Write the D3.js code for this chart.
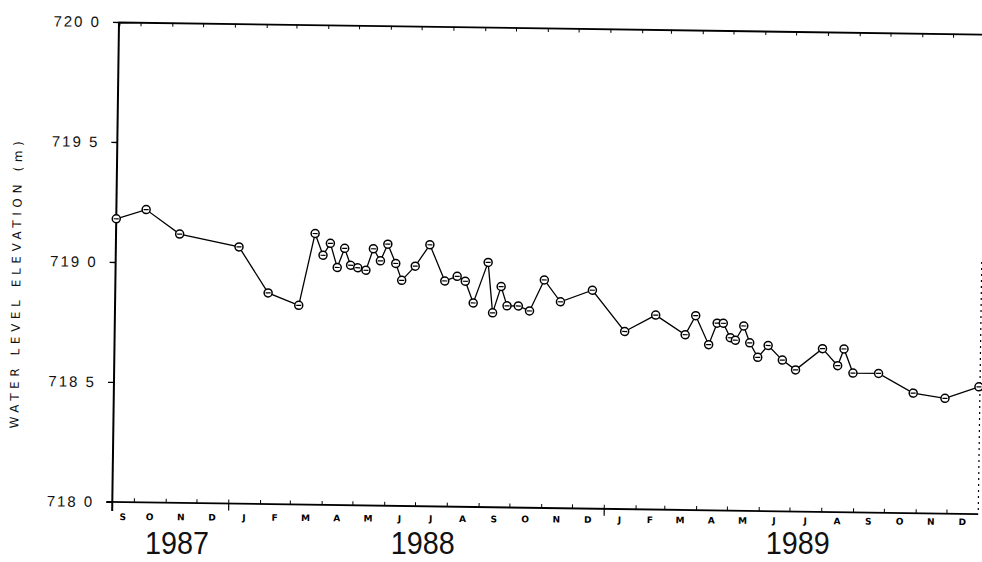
<!DOCTYPE html>
<html>
<head>
<meta charset="utf-8">
<script src="https://cdn.jsdelivr.net/npm/d3@7"></script>
<style>
  body { margin: 0; background: #fff; }
  svg { display: block; }
</style>
</head>
<body>
<div id="container"></div>
<script>
/* CONSTANTS AND GLOBALS */
const width = 982;
const height = 562;
const plotW = 866;
const plotH = 480;
const originX = 119;
const originY = 22;
const tilt = 0.8; // scanned page is a little crooked

/* DATA */
const sampleDates = ["1987-09-10","1987-10-09","1987-11-11","1988-01-08","1988-02-06","1988-03-07",
  "1988-03-22","1988-03-30","1988-04-06","1988-04-13","1988-04-20","1988-04-26","1988-05-03",
  "1988-05-11","1988-05-18","1988-05-25","1988-06-01","1988-06-09","1988-06-15","1988-06-28",
  "1988-07-12","1988-07-27","1988-08-08","1988-08-16","1988-08-24","1988-09-07","1988-09-12",
  "1988-09-20","1988-09-26","1988-10-07","1988-10-18","1988-11-01","1988-11-17","1988-12-18",
  "1989-01-19","1989-02-18","1989-03-19","1989-03-29","1989-04-11","1989-04-19","1989-04-25",
  "1989-05-02","1989-05-07","1989-05-15","1989-05-21","1989-05-29","1989-06-08","1989-06-22",
  "1989-07-05","1989-07-31","1989-08-15","1989-08-21","1989-08-30","1989-09-24","1989-10-28",
  "1989-11-28","1989-12-31"];

const levels = [719.18,719.22,719.12,719.07,718.88,718.83,
  719.13,719.04,719.09,718.99,719.07,719.00,718.99,
  718.98,719.07,719.02,719.09,719.01,718.94,719.00,
  719.09,718.94,718.96,718.94,718.85,719.02,718.81,
  718.92,718.84,718.84,718.82,718.95,718.86,718.91,
  718.74,718.81,718.73,718.81,718.69,718.78,718.78,
  718.72,718.71,718.77,718.70,718.64,718.69,718.63,
  718.59,718.68,718.61,718.68,718.58,718.58,718.50,
  718.48,718.53];

const yTicks = [718.0, 718.5, 719.0, 719.5, 720.0];
const monthLetters = ["J","F","M","A","M","J","J","A","S","O","N","D"];
const years = [1987, 1988, 1989];

const parse = d3.timeParse("%Y-%m-%d");
const data = sampleDates.map((d, i) => ({ date: parse(d), level: levels[i] }));

const startDate = new Date(1987, 8, 10);
const endDate = new Date(1990, 0, 1);

/* SCALES */
const xScale = d3.scaleTime()
  .domain([startDate, endDate])
  .range([0, plotW]);

const yScale = d3.scaleLinear()
  .domain([718, 720])
  .range([plotH, 0]);

/* HTML ELEMENTS */
const svg = d3.select("#container")
  .append("svg")
  .attr("width", width)
  .attr("height", height);

const g = svg.append("g")
  .attr("transform", `translate(${originX},${originY}) rotate(${tilt})`);

const monthStarts = d3.timeMonth.range(new Date(1987, 9, 1), endDate);

// top axis, ticks point inward
const topAxis = g.append("g")
  .call(d3.axisBottom(xScale).tickValues(monthStarts).tickSize(4).tickFormat(""));
topAxis.select(".domain").attr("stroke-width", 1.8);

// bottom axis, ticks point inward, year boundaries also hang below
const bottomAxis = g.append("g")
  .attr("transform", `translate(0,${plotH})`)
  .call(d3.axisTop(xScale).tickValues(monthStarts).tickSize(4).tickFormat(""));
bottomAxis.select(".domain").remove();
bottomAxis.append("line")
  .attr("x1", -6).attr("x2", plotW)
  .attr("stroke", "#000").attr("stroke-width", 1.8);
bottomAxis.selectAll(".tick")
  .filter(d => d.getMonth() === 0)
  .append("line")
  .attr("y1", 0).attr("y2", 7)
  .attr("stroke", "#000").attr("stroke-width", 1.2);

// left axis
const leftAxis = g.append("g")
  .call(d3.axisLeft(yScale)
    .tickValues(yTicks)
    .tickSize(6)
    .tickPadding(12)
    .tickFormat(d => d3.format(".1f")(d).replace(".", " ")));
leftAxis.select(".domain").remove();
leftAxis.append("line")
  .attr("y1", 0).attr("y2", plotH + 9)
  .attr("stroke", "#000").attr("stroke-width", 2);
leftAxis.selectAll(".tick line").attr("stroke-width", 1.3);
leftAxis.selectAll(".tick text")
  .style("font-family", "Liberation Sans, Arial, sans-serif")
  .style("font-size", "15px")
  .style("letter-spacing", "2px")
  .attr("fill", "#111");

// faint right edge of the frame
g.append("line")
  .attr("x1", plotW).attr("x2", plotW)
  .attr("y1", yScale(719.05)).attr("y2", plotH)
  .attr("stroke", "#000")
  .attr("stroke-width", 1.2)
  .attr("stroke-dasharray", "2,4");

// month letters, centred in each month
const monthBands = d3.timeMonth.range(new Date(1987, 8, 1), endDate).map(m => {
  const a = m < startDate ? startDate : m;
  const b = d3.timeMonth.offset(m, 1);
  return { letter: monthLetters[m.getMonth()], mid: new Date((+a + +b) / 2) };
});

g.selectAll("text.month")
  .data(monthBands)
  .join("text")
  .attr("class", "month")
  .attr("x", d => xScale(d.mid))
  .attr("y", d => plotH + 18 - xScale(d.mid) * 0.008)
  .attr("text-anchor", "middle")
  .style("font-family", "DejaVu Sans, sans-serif")
  .style("font-size", "9px")
  .style("font-weight", "bold")
  .text(d => d.letter);

// year labels sit level on the page, under the middle of each year
svg.selectAll("text.year")
  .data(years)
  .join("text")
  .attr("class", "year")
  .attr("x", d => {
    const a = d3.max([new Date(d, 0, 1), startDate]);
    const b = new Date(d + 1, 0, 1);
    return originX + xScale(new Date((+a + +b) / 2));
  })
  .attr("y", 554)
  .attr("text-anchor", "middle")
  .attr("textLength", 64)
  .attr("lengthAdjust", "spacingAndGlyphs")
  .style("font-family", "Liberation Sans, Arial, sans-serif")
  .style("font-size", "31px")
  .attr("fill", "#111")
  .text(d => d);

// y axis title
g.append("text")
  .attr("transform", `translate(-95,${plotH / 2 + 22}) rotate(-90)`)
  .attr("text-anchor", "middle")
  .style("font-family", "DejaVu Sans, sans-serif")
  .style("font-size", "12px")
  .style("letter-spacing", "4.6px")
  .attr("fill", "#111")
  .text("WATER LEVEL ELEVATION (m)");

// line
const line = d3.line()
  .x(d => xScale(d.date))
  .y(d => yScale(d.level));

g.append("path")
  .datum(data)
  .attr("fill", "none")
  .attr("stroke", "#000")
  .attr("stroke-width", 1.3)
  .attr("d", line);

// markers: small open circles with a bar through
const marks = g.selectAll("g.mark")
  .data(data)
  .join("g")
  .attr("class", "mark")
  .attr("transform", d => `translate(${xScale(d.date)},${yScale(d.level)})`);

marks.append("circle")
  .attr("r", 4)
  .attr("fill", "#fff")
  .attr("stroke", "#000")
  .attr("stroke-width", 1.5);

marks.append("line")
  .attr("x1", -2.5).attr("x2", 2.5)
  .attr("stroke", "#000")
  .attr("stroke-width", 1.2);
</script>
</body>
</html>
